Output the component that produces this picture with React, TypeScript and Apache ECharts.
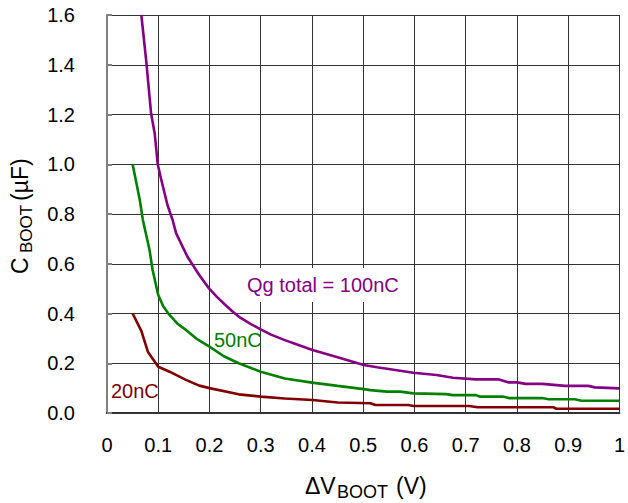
import React, { useEffect, useRef } from "react";
import * as echarts from "echarts";

const xTicks = [0, 0.1, 0.2, 0.3, 0.4, 0.5, 0.6, 0.7, 0.8, 0.9, 1];
const yTicks = [0, 0.2, 0.4, 0.6, 0.8, 1.0, 1.2, 1.4, 1.6];

const x100 = [0.067, 0.077, 0.086, 0.093, 0.099, 0.106, 0.118, 0.128, 0.135, 0.157, 0.18, 0.199, 0.215, 0.23, 0.245, 0.26, 0.28, 0.3, 0.32, 0.347, 0.375, 0.401, 0.45, 0.501, 0.527, 0.598, 0.643, 0.675, 0.72, 0.765, 0.784, 0.8, 0.817, 0.849, 0.894, 0.939, 0.952, 1.0];
const y100 = [1.6, 1.406, 1.205, 1.125, 1.0, 0.937, 0.836, 0.776, 0.722, 0.628, 0.555, 0.501, 0.466, 0.436, 0.408, 0.383, 0.358, 0.336, 0.315, 0.293, 0.272, 0.253, 0.224, 0.193, 0.184, 0.162, 0.153, 0.142, 0.135, 0.135, 0.123, 0.123, 0.117, 0.117, 0.109, 0.109, 0.103, 0.099];

const x50 = [0.05, 0.064, 0.07, 0.083, 0.089, 0.1, 0.11, 0.122, 0.137, 0.154, 0.175, 0.2, 0.228, 0.257, 0.3, 0.347, 0.4, 0.45, 0.501, 0.514, 0.546, 0.572, 0.598, 0.662, 0.675, 0.72, 0.727, 0.772, 0.784, 0.849, 0.862, 0.913, 0.926, 1.0];
const y50 = [1.0, 0.856, 0.776, 0.655, 0.575, 0.474, 0.428, 0.394, 0.36, 0.334, 0.298, 0.267, 0.228, 0.2, 0.166, 0.139, 0.122, 0.109, 0.096, 0.092, 0.086, 0.086, 0.079, 0.076, 0.072, 0.072, 0.066, 0.066, 0.06, 0.06, 0.055, 0.055, 0.049, 0.049];

const x20 = [0.05, 0.067, 0.08, 0.1, 0.122, 0.154, 0.18, 0.2, 0.257, 0.3, 0.347, 0.401, 0.45, 0.514, 0.524, 0.588, 0.598, 0.707, 0.723, 0.871, 0.877, 1.0];
const y20 = [0.4, 0.33, 0.245, 0.186, 0.166, 0.133, 0.11, 0.1, 0.075, 0.066, 0.058, 0.052, 0.042, 0.039, 0.032, 0.032, 0.028, 0.028, 0.023, 0.023, 0.017, 0.017];

const seriesNames = ["Qg total = 100nC", "50nC", "20nC"];
const seriesColors = ["#850085", "#008000", "#800000"];

const FONT = "'Liberation Sans', Arial, Helvetica, sans-serif";

function pairs(xs: number[], ys: number[]) {
  return xs.map((x, i) => [x, ys[i]]);
}

export default function App() {
  const ref = useRef<HTMLDivElement>(null);
  useEffect(() => {
    if (!ref.current) return;
    const chart = echarts.init(ref.current, undefined, { renderer: "svg" });
    const datasets = [pairs(x100, y100), pairs(x50, y50), pairs(x20, y20)];
    chart.setOption({
      animation: false,
      backgroundColor: "#fff",
      grid: { left: 107, top: 15, width: 518, height: 398, containLabel: false },
      xAxis: {
        type: "value",
        min: xTicks[0],
        max: xTicks[xTicks.length - 1],
        interval: 0.1,
        axisLine: { show: true, onZero: false, lineStyle: { color: "#333", width: 2 } },
        axisTick: { show: false },
        splitLine: { show: true, lineStyle: { color: "#333", width: 1 } },
        axisLabel: {
          margin: 22,
          color: "#000",
          fontSize: 20,
          fontFamily: FONT,
          formatter: (v: number) => (v === 0 ? "0" : v === 1 ? "1" : v.toFixed(1)),
        },
      },
      yAxis: {
        type: "value",
        min: yTicks[0],
        max: yTicks[yTicks.length - 1],
        interval: 0.2,
        axisLine: { show: true, lineStyle: { color: "#808080", width: 2 } },
        axisTick: { show: true, inside: true, length: 5, lineStyle: { color: "#808080", width: 2 } },
        splitLine: { show: true, lineStyle: { color: "#333", width: 1 } },
        axisLabel: {
          margin: 32,
          color: "#000",
          fontSize: 20,
          fontFamily: FONT,
          formatter: (v: number) => v.toFixed(1),
        },
      },
      series: datasets.map((d, i) => ({
        name: seriesNames[i],
        type: "line",
        data: d,
        showSymbol: false,
        symbol: "none",
        smooth: false,
        lineStyle: { color: seriesColors[i], width: 2.6 },
        z: 3,
      })),
      graphic: [
        {
          type: "text",
          x: 244,
          y: 285,
          z: 10,
          style: {
            text: seriesNames[0],
            font: `20px ${FONT}`,
            fill: seriesColors[0],
            verticalAlign: "middle",
            align: "left",
            backgroundColor: "#fff",
            padding: [7, 3, 7, 3],
          },
        },
        {
          type: "text",
          x: 214,
          y: 340,
          z: 10,
          style: {
            text: seriesNames[1],
            font: `20px ${FONT}`,
            fill: seriesColors[1],
            verticalAlign: "middle",
            align: "left",
          },
        },
        {
          type: "text",
          x: 111,
          y: 391,
          z: 10,
          style: {
            text: seriesNames[2],
            font: `20px ${FONT}`,
            fill: seriesColors[2],
            verticalAlign: "middle",
            align: "left",
          },
        },
        // x axis title
        { type: "text", x: 305, y: 486, style: { text: "ΔV", font: `23px ${FONT}`, fill: "#000", verticalAlign: "middle", align: "left" } },
        { type: "text", x: 337, y: 492, style: { text: "BOOT", font: `18px ${FONT}`, fill: "#000", verticalAlign: "middle", align: "left" } },
        { type: "text", x: 396, y: 486, style: { text: "(V)", font: `23px ${FONT}`, fill: "#000", verticalAlign: "middle", align: "left" } },
        // y axis title (rotated)
        { type: "text", x: 20, y: 274, rotation: Math.PI / 2, style: { text: "C", font: `23px ${FONT}`, fill: "#000", verticalAlign: "middle", align: "left" } },
        { type: "text", x: 26.5, y: 253, rotation: Math.PI / 2, style: { text: "BOOT", font: `17px ${FONT}`, fill: "#000", verticalAlign: "middle", align: "left" } },
        { type: "text", x: 20, y: 201, rotation: Math.PI / 2, style: { text: "(µF)", font: `23px ${FONT}`, fill: "#000", verticalAlign: "middle", align: "left" } },
      ],
    });
    return () => chart.dispose();
  }, []);
  return (
    <div
      ref={ref}
      style={{ position: "fixed", left: 0, top: 0, width: 628, height: 503, background: "#fff" }}
    />
  );
}
